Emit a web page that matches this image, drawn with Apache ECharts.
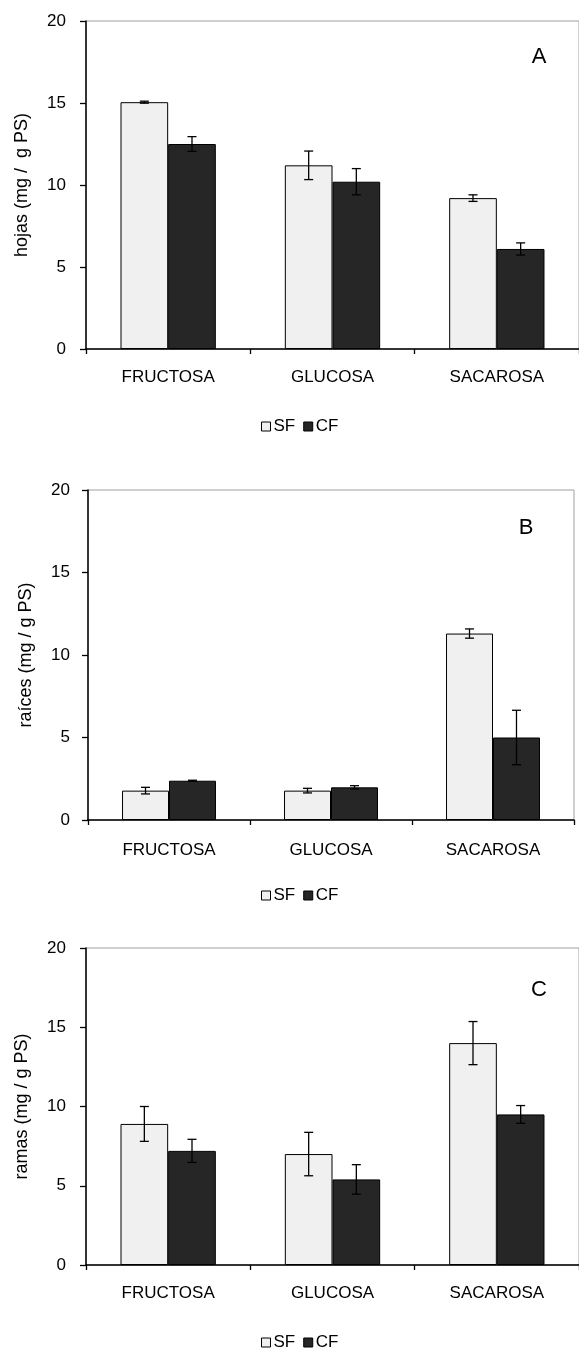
<!DOCTYPE html>
<html>
<head>
<meta charset="utf-8">
<script src="https://cdn.jsdelivr.net/npm/echarts@6/dist/echarts.min.js"></script>
<style>
html,body{margin:0;padding:0;background:#fff;}
#c{width:579px;height:1353px;}
</style>
</head>
<body>
<div id="c"></div>
<script>
const categories = ['FRUCTOSA', 'GLUCOSA', 'SACAROSA'];
const seriesNames = ['SF', 'CF'];
const yTicks = [0, 5, 10, 15, 20];

const hojasSF = [15.05, 11.2, 9.2];
const hojasSFerr = [0.06, 0.87, 0.2];
const hojasCF = [12.5, 10.2, 6.1];
const hojasCFerr = [0.45, 0.8, 0.37];

const raicesSF = [1.78, 1.78, 11.3];
const raicesSFerr = [0.2, 0.14, 0.28];
const raicesCF = [2.38, 1.98, 5.0];
const raicesCFerr = [0.03, 0.1, 1.65];

const ramasSF = [8.9, 7.0, 14.0];
const ramasSFerr = [1.1, 1.37, 1.36];
const ramasCF = [7.2, 5.4, 9.5];
const ramasCFerr = [0.73, 0.93, 0.56];

const yNames = ['hojas (mg /  g PS)', 'raíces (mg / g PS)', 'ramas (mg / g PS)'];
const panelLetters = ['A', 'B', 'C'];

const FONT = 'Liberation Sans, Arial, sans-serif';
const GAP = 0.42;
const colSF = '#f0f0f0', colCF = '#262626';

const panels = [
  {sf: hojasSF, sfe: hojasSFerr, cf: hojasCF, cfe: hojasCFerr,
   grid: {left: 86, top: 21, width: 499, height: 328}, nameGap: 55, labelMargin: 20, yLabelMargin: 20,
   legendTop: 418, letter: [539, 57]},
  {sf: raicesSF, sfe: raicesSFerr, cf: raicesCF, cfe: raicesCFerr,
   grid: {left: 88, top: 490, width: 486, height: 330}, nameGap: 53, labelMargin: 22, yLabelMargin: 18,
   legendTop: 887, letter: [526, 528]},
  {sf: ramasSF, sfe: ramasSFerr, cf: ramasCF, cfe: ramasCFerr,
   grid: {left: 86, top: 948, width: 499, height: 317}, nameGap: 55, labelMargin: 20, yLabelMargin: 20,
   legendTop: 1334, letter: [539, 990]}
];

function errRender(sign) {
  return function (params, api) {
    const band = api.size([1, 0])[0];
    const bw = band * (1 - GAP) / 2;
    const lo = api.coord([api.value(0), api.value(1)]);
    const hi = api.coord([api.value(0), api.value(2)]);
    const x = lo[0] + sign * bw / 2;
    const cap = 4.5;
    const st = {stroke: '#000', lineWidth: 1.3};
    return {type: 'group', children: [
      {type: 'line', shape: {x1: x, y1: lo[1], x2: x, y2: hi[1]}, style: st},
      {type: 'line', shape: {x1: x - cap, y1: lo[1], x2: x + cap, y2: lo[1]}, style: st},
      {type: 'line', shape: {x1: x - cap, y1: hi[1], x2: x + cap, y2: hi[1]}, style: st}
    ]};
  };
}

const option = {
  animation: false,
  backgroundColor: '#fff',
  textStyle: {fontFamily: FONT},
  grid: [], xAxis: [], yAxis: [], series: [], legend: [], graphic: []
};

panels.forEach((p, i) => {
  option.grid.push(Object.assign({show: true, borderColor: '#a0a0a0', borderWidth: 1, backgroundColor: 'transparent'}, p.grid));
  option.xAxis.push({
    type: 'category', gridIndex: i, data: categories,
    axisLine: {lineStyle: {color: '#000', width: 1.5}},
    axisTick: {show: true, length: 5, lineStyle: {color: '#000', width: 1.3}},
    axisLabel: {color: '#000', fontSize: 17, fontFamily: FONT, margin: p.labelMargin},
    splitLine: {show: false}
  });
  option.yAxis.push({
    type: 'value', gridIndex: i, min: yTicks[0], max: yTicks[yTicks.length - 1], interval: 5,
    name: yNames[i], nameLocation: 'middle', nameGap: p.nameGap,
    nameTextStyle: {color: '#000', fontSize: 18, fontFamily: FONT},
    axisLine: {show: true, lineStyle: {color: '#000', width: 1.5}},
    axisTick: {show: true, length: 6, lineStyle: {color: '#000', width: 1.3}},
    axisLabel: {color: '#000', fontSize: 17, fontFamily: FONT, margin: p.yLabelMargin},
    splitLine: {show: false}
  });
  option.series.push({
    name: 'SF', type: 'bar', xAxisIndex: i, yAxisIndex: i, data: p.sf,
    barGap: '0%', barCategoryGap: (GAP * 100) + '%',
    itemStyle: {color: colSF, borderColor: '#000', borderWidth: 1}
  });
  option.series.push({
    name: 'CF', type: 'bar', xAxisIndex: i, yAxisIndex: i, data: p.cf,
    barGap: '0%', barCategoryGap: (GAP * 100) + '%',
    itemStyle: {color: colCF, borderColor: '#000', borderWidth: 1}
  });
  option.series.push({
    name: 'errSF' + i, type: 'custom', xAxisIndex: i, yAxisIndex: i, z: 5,
    renderItem: errRender(-1),
    encode: {x: 0, y: [1, 2]},
    data: p.sf.map((v, k) => [k, v - p.sfe[k], v + p.sfe[k]])
  });
  option.series.push({
    name: 'errCF' + i, type: 'custom', xAxisIndex: i, yAxisIndex: i, z: 5,
    renderItem: errRender(1),
    encode: {x: 0, y: [1, 2]},
    data: p.cf.map((v, k) => [k, v - p.cfe[k], v + p.cfe[k]])
  });
  option.legend.push({
    data: seriesNames, left: 261, top: p.legendTop, padding: 0,
    itemWidth: 9, itemHeight: 9, itemGap: 8, icon: 'rect', selectedMode: false,
    textStyle: {color: '#000', fontSize: 17, fontFamily: FONT, padding: [0, 0, 0, -2]},
    itemStyle: {borderColor: '#000', borderWidth: 1}
  });
  option.graphic.push({
    type: 'text', x: p.letter[0], y: p.letter[1],
    style: {text: panelLetters[i], fill: '#000', font: '22px ' + FONT, align: 'center', verticalAlign: 'middle'}
  });
});

const chart = echarts.init(document.getElementById('c'), null, {renderer: 'canvas'});
chart.setOption(option);
</script>
</body>
</html>
